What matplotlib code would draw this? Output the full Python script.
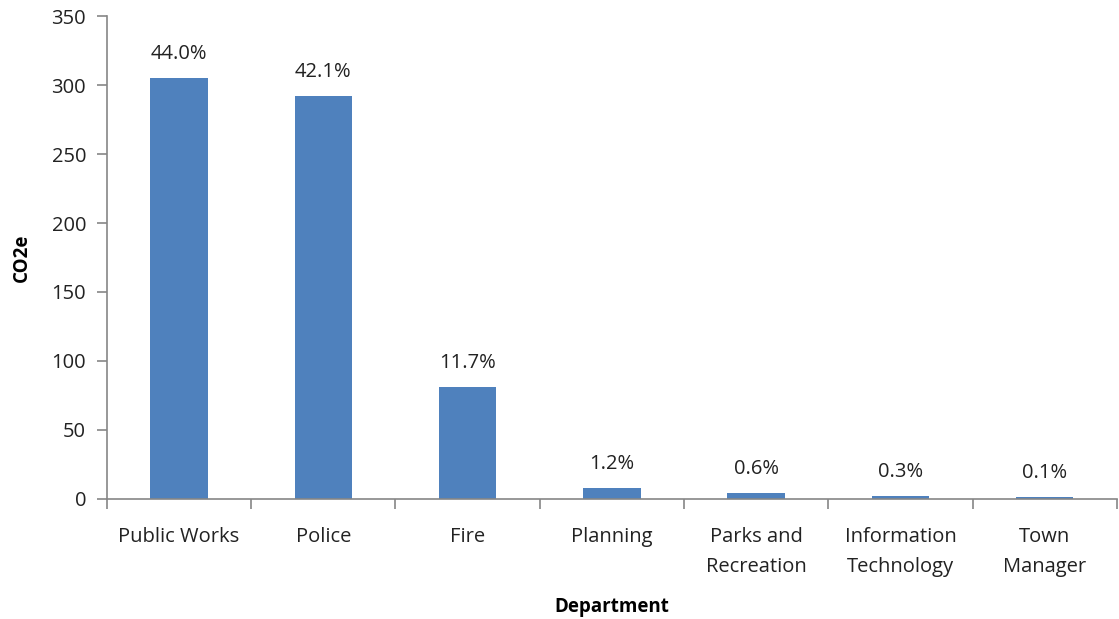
import matplotlib
matplotlib.use('Agg')
import matplotlib.pyplot as plt
import numpy as np

### Data

departments = ['Public Works', 'Police', 'Fire', 'Planning',
               'Parks and\nRecreation', 'Information\nTechnology', 'Town\nManager']
co2e = [305, 292, 81, 8, 4.5, 2, 1.2]
share_labels = ['44.0%', '42.1%', '11.7%', '1.2%', '0.6%', '0.3%', '0.1%']

### Figure

plt.rcParams['font.family'] = ['Open Sans', 'DejaVu Sans']
fig = plt.figure(figsize=(11.19, 6.19), dpi=100)
ax = fig.add_axes([0.0956, 0.194, 0.9024, 0.78])

x = np.arange(len(departments))
bars = ax.bar(x, co2e, width=0.4, color='#4F81BD', zorder=2)

for bar, label in zip(bars, share_labels):
    ax.annotate(label, (bar.get_x() + bar.get_width() / 2, bar.get_height()),
                xytext=(0, 10), textcoords='offset points',
                ha='center', va='bottom', fontsize=14.5, color='#222222')

# Axes styling
ax.set_xlim(-0.5, len(departments) - 0.5)
ax.set_ylim(0, 350)
ax.set_yticks(np.arange(0, 351, 50))
ax.set_xticks(x)
ax.set_xticklabels(departments, fontsize=14.5, color='#222222', linespacing=1.7)
ax.set_xticks(np.arange(-0.5, len(departments), 1), minor=True)

for side in ['top', 'right']:
    ax.spines[side].set_visible(False)
for side in ['left', 'bottom']:
    ax.spines[side].set_color('#868686')
    ax.spines[side].set_linewidth(1.2)

ax.tick_params(axis='y', labelsize=14.5, labelcolor='#222222', color='#868686',
               length=7, width=1.2, pad=8)
ax.tick_params(axis='x', which='major', length=0, pad=20)
ax.tick_params(axis='x', which='minor', length=7, width=1.2, color='#868686')

ax.set_ylabel('CO2e', fontsize=13.5, fontweight='bold', labelpad=14)
ax.set_xlabel('Department', fontsize=13.5, fontweight='bold', labelpad=14)

fig.savefig('out.png', dpi=100)
plt.close(fig)
